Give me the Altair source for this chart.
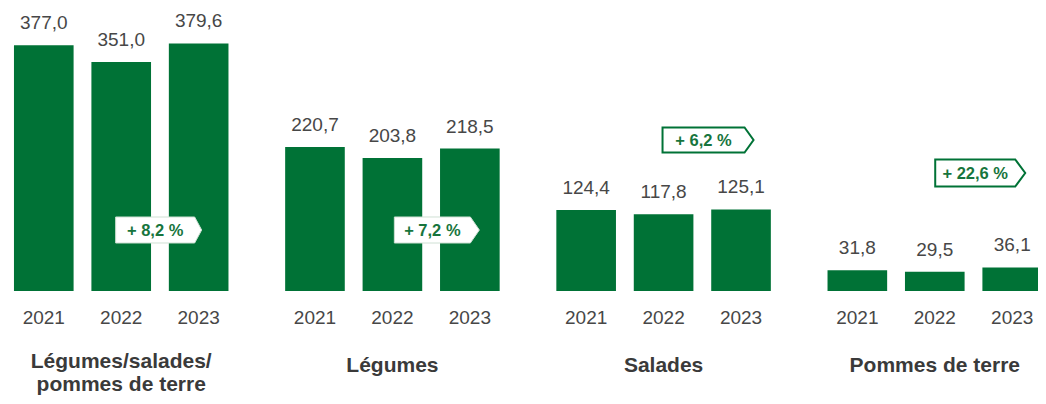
import altair as alt
import pandas as pd

groups = ["Légumes/salades/\npommes de terre", "Légumes", "Salades", "Pommes de terre"]
years = ["2021", "2022", "2023"]
values = [
    [377.0, 351.0, 379.6],
    [220.7, 203.8, 218.5],
    [124.4, 117.8, 125.1],
    [31.8, 29.5, 36.1],
]
changes = ["+ 8,2 %", "+ 7,2 %", "+ 6,2 %", "+ 22,6 %"]
badge_inside = [True, True, False, False]
badge_ypix = [222, 222, 132, 165]
title_ypix = [360, 364, 364, 364]

GREEN = "#007236"
TXT = "#474747"
FONT = "Liberation Sans"

rows = []
for g, vals in zip(groups, values):
    for y, v in zip(years, vals):
        rows.append({"group": g, "year": y, "value": v,
                     "label": f"{v:.1f}".replace(".", ",")})
df = pd.DataFrame(rows)

bdf = pd.DataFrame({"group": groups, "change": changes, "inside": badge_inside,
                    "by": badge_ypix, "year": ["2023"] * 4})
tdf = pd.DataFrame({"group": groups, "ty": title_ypix})

xenc = alt.X("group:N", sort=groups, axis=None,
             scale=alt.Scale(paddingInner=0.209, paddingOuter=0.022, range=[0, 1040]))
xoff = alt.XOffset("year:N", sort=years,
                   scale=alt.Scale(paddingInner=0.23, paddingOuter=0))
yenc = alt.Y("value:Q", axis=None, scale=alt.Scale(domain=[0, 434], nice=False))

base = alt.Chart(df)
bars = base.mark_bar(color=GREEN).encode(x=xenc, xOffset=xoff, y=yenc)
vals = base.mark_text(font=FONT, fontSize=19, color=TXT, baseline="alphabetic", dy=-16).encode(
    x=xenc, xOffset=xoff, y=yenc, text="label:N")
yrs = base.mark_text(font=FONT, fontSize=19, color=TXT, baseline="alphabetic").encode(
    x=xenc, xOffset=xoff, y=alt.value(316), text="year:N")

titles = alt.Chart(tdf).mark_text(font=FONT, fontSize=21, fontWeight="bold", color="#3a3a3a",
                                  baseline="alphabetic", lineBreak="\n", lineHeight=23).encode(
    x=xenc, y=alt.Y("ty:Q", scale=None, axis=None), text="group:N")


def badge_path(w, h, tip, shift):
    r = w / 2.0
    x0 = (shift - w / 2.0) / r
    xb = (shift + w / 2.0 - tip) / r
    x1 = (shift + w / 2.0) / r
    hy = (h / 2.0) / r
    return f"M{x0:.4f},{-hy:.4f} L{xb:.4f},{-hy:.4f} L{x1:.4f},0 L{xb:.4f},{hy:.4f} L{x0:.4f},{hy:.4f} Z"


badge_geom = [(86, 26, 7, -40), (85, 26, 9, -33), (91, 25, 9, -33), (90, 27, 10, -32)]

byenc = alt.Y("by:Q", scale=None, axis=None)
layers = [bars, vals, yrs, titles]
for i, (w, h, tip, shift) in enumerate(badge_geom):
    src = alt.Chart(bdf).transform_filter(alt.datum.group == groups[i])
    if badge_inside[i]:
        box = src.mark_point(shape=badge_path(w, h, tip, shift), size=w * w, filled=True,
                             fill="white", stroke="#cfe0d4", strokeWidth=1, opacity=1)
    else:
        box = src.mark_point(shape=badge_path(w, h, tip, shift), size=w * w, filled=True,
                             fill="white", stroke=GREEN, strokeWidth=2, opacity=1)
    txt = src.mark_text(font=FONT, fontSize=16.5, fontWeight="bold", color="#17753d",
                        baseline="middle", dx=shift - tip / 2.0, dy=1)
    layers.append(box.encode(x=xenc, xOffset=xoff, y=byenc))
    layers.append(txt.encode(x=xenc, xOffset=xoff, y=byenc, text="change:N"))

chart = alt.layer(*layers).properties(
    width=1030, height=283,
    padding={"left": 0, "top": 0, "right": 0, "bottom": 105},
    autosize=alt.AutoSizeParams(type="none"),
).configure_view(stroke=None)

chart.save("out.html", embed_options={"renderer": "svg", "actions": False})
